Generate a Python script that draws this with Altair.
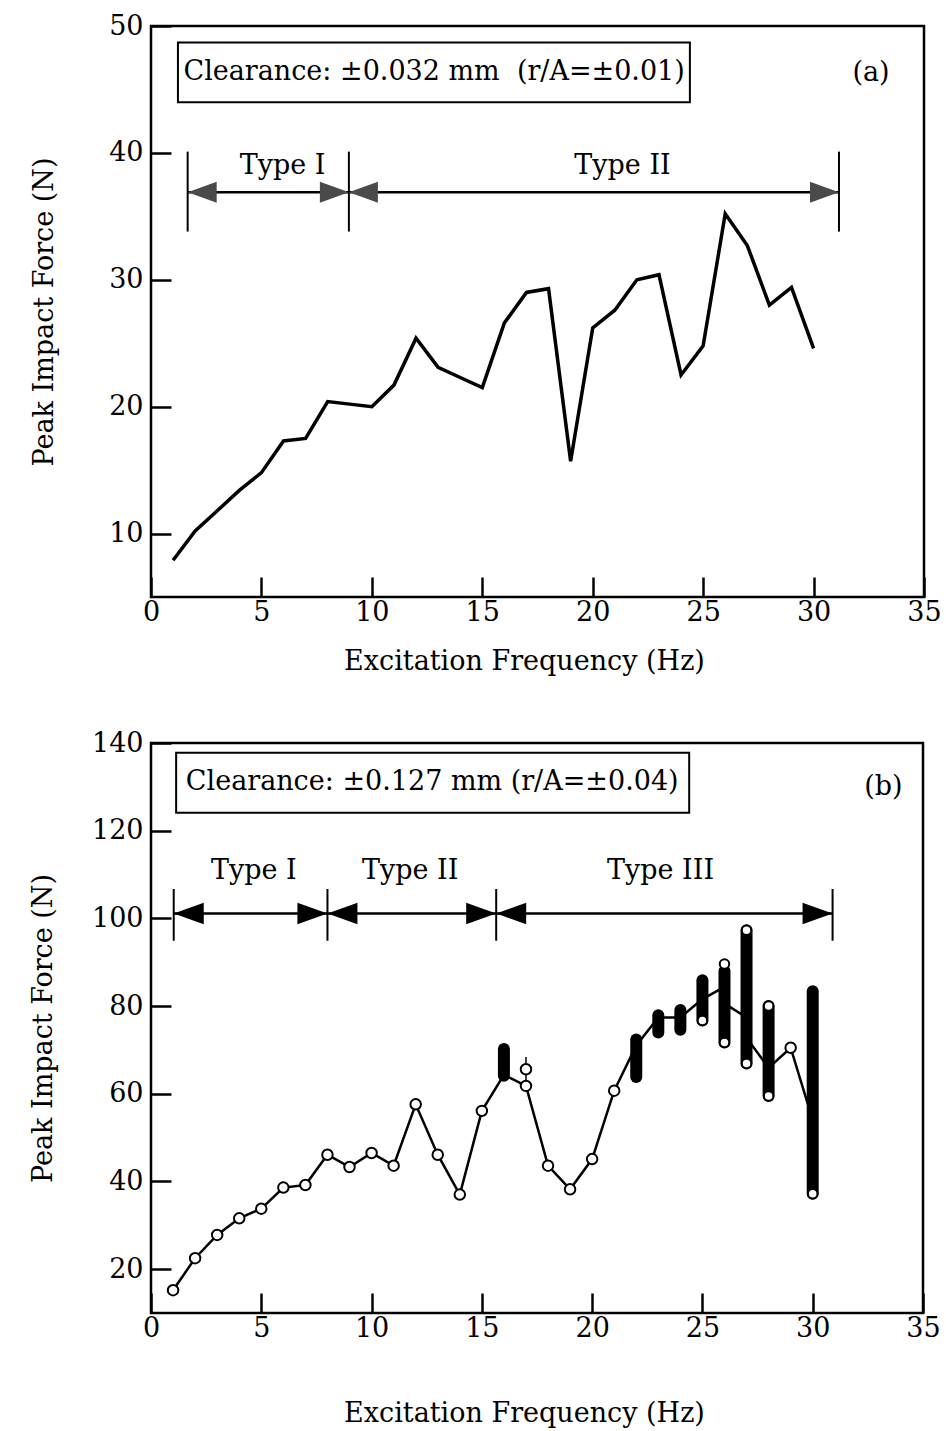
import altair as alt
import pandas as pd

FONT = "DejaVu Serif"
FS = 27

# ---------------- Panel (a) data ----------------
a_freq = list(range(1, 31))
a_force = [7.9, 10.2, 11.8, 13.4, 14.8, 17.3, 17.5, 20.4, 20.2, 20.0,
           21.7, 25.4, 23.1, 22.3, 21.5, 26.6, 29.0, 29.3, 15.7, 26.2,
           27.6, 30.0, 30.4, 22.5, 24.8, 35.2, 32.7, 28.0, 29.4, 24.6]
a_bounds = [1.66, 8.96, 31.15]
a_types = ["Type I", "Type II"]
a_type_x = [5.96, 21.35]
a_type_y = 39.0
a_arrow_y = 36.9
a_bar_lo, a_bar_hi = 33.8, 40.1
a_box = [1.22, 24.4, 44.0, 48.7]
a_box_text = "Clearance: \u00b10.032 mm\u00a0\u00a0(r/A=\u00b10.01)"
a_box_text_xy = [12.82, 46.35]
a_tag = "(a)"
a_tag_xy = [32.6, 46.3]
a_xdom = [0, 35]
a_ydom = [5, 50]
a_xticks = [0, 5, 10, 15, 20, 25, 30, 35]
a_yticks = [10, 20, 30, 40, 50]

# ---------------- Panel (b) data ----------------
b_pts_x = [1, 2, 3, 4, 5, 6, 7, 8, 9, 10, 11, 12, 13, 14, 15, 17, 17, 18, 19, 20, 21, 29]
b_pts_y = [15.2, 22.5, 27.8, 31.6, 33.8, 38.6, 39.2, 46.1, 43.3, 46.5, 43.6, 57.6, 46.1, 37.0,
           56.1, 65.6, 61.8, 43.6, 38.2, 45.1, 60.7, 70.5]
b_line_x = [1, 2, 3, 4, 5, 6, 7, 8, 9, 10, 11, 12, 13, 14, 15, 16, 17, 18, 19, 20, 21,
            22, 23, 24, 25, 26, 26, 27, 27, 28, 29, 30]
b_line_y = [15.2, 22.5, 27.8, 31.6, 33.8, 38.6, 39.2, 46.1, 43.3, 46.5, 43.6, 57.6, 46.1, 37.0,
            56.1, 64.3, 61.8, 43.6, 38.2, 45.1, 60.7, 71.0, 77.4, 77.4, 81.6, 84.4, 80.6,
            77.4, 72.8, 65.9, 70.5, 54.0]
b_blob_x = [16, 22, 23, 24, 25, 26, 27, 28, 30]
b_blob_lo = [64.1, 63.8, 74.0, 74.6, 76.7, 71.7, 66.9, 59.5, 37.2]
b_blob_hi = [70.2, 72.4, 77.9, 79.1, 85.9, 88.0, 97.3, 80.0, 83.4]
b_end_x = [25, 26, 26, 27, 27, 28, 28, 30]
b_end_y = [76.7, 89.6, 71.7, 97.3, 66.9, 80.0, 59.5, 37.2]
b_spike_x = [17]
b_spike_lo = [62.2]
b_spike_hi = [68.4]
b_bounds = [1.03, 8.0, 15.65, 30.9]
b_types = ["Type I", "Type II", "Type III"]
b_type_x = [4.66, 11.75, 23.1]
b_type_y = 110.8
b_arrow_y = 101.1
b_bar_lo, b_bar_hi = 94.9, 106.7
b_box = [1.14, 24.4, 124.1, 137.8]
b_box_text = "Clearance: \u00b10.127 mm (r/A=\u00b10.04)"
b_box_text_xy = [12.75, 131.0]
b_tag = "(b)"
b_tag_xy = [33.2, 130.0]
b_xdom = [0, 35]
b_ydom = [10, 140]
b_xticks = [0, 5, 10, 15, 20, 25, 30, 35]
b_yticks = [20, 40, 60, 80, 100, 120, 140]

X_TITLE = "Excitation Frequency (Hz)"
Y_TITLE = "Peak Impact Force (N)"

LEFT_HEAD = "M0,0L1,-0.36L1,0.36Z"
RIGHT_HEAD = "M0,0L-1,-0.36L-1,0.36Z"


def panel(xdom, ydom, xticks, yticks, xtitle_pad, ytitle_pad,
          bounds, types, type_x, type_y, arrow_y, bar_lo, bar_hi,
          box, box_text, box_xy, tag, tag_xy, head_color, head_size):
    xs = alt.Scale(domain=xdom, nice=False, zero=False)
    ys = alt.Scale(domain=ydom, nice=False, zero=False)
    xax = alt.Axis(values=xticks, offset=-20, tickSize=20, labelPadding=2,
                   titlePadding=xtitle_pad, titleX=373)
    yax = alt.Axis(values=yticks, offset=-20, tickSize=20, labelPadding=8,
                   titlePadding=ytitle_pad)

    def X(f):
        return alt.X(f, type="quantitative", scale=xs, title=X_TITLE, axis=xax)

    def Y(f):
        return alt.Y(f, type="quantitative", scale=ys, title=Y_TITLE, axis=yax)

    box_df = pd.DataFrame({"x": [box[0]], "x2": [box[1]], "y": [box[2]], "y2": [box[3]]})
    rect = alt.Chart(box_df).mark_rect(fill="white", stroke="black", strokeWidth=2).encode(
        x=X("x"), x2="x2", y=Y("y"), y2="y2")
    txt_df = pd.DataFrame({"x": [box_xy[0], tag_xy[0]], "y": [box_xy[1], tag_xy[1]],
                           "t": [box_text, tag]})
    txt = alt.Chart(txt_df).mark_text(font=FONT, fontSize=FS, color="black",
                                      baseline="middle", align="center").encode(
        x=X("x"), y=Y("y"), text="t:N")

    bars_df = pd.DataFrame({"x": bounds, "lo": [bar_lo] * len(bounds), "hi": [bar_hi] * len(bounds)})
    bars = alt.Chart(bars_df).mark_rule(color="black", strokeWidth=2).encode(
        x=X("x"), y=Y("lo"), y2="hi")
    seg_df = pd.DataFrame({"x": bounds[:-1], "x2": bounds[1:], "y": [arrow_y] * (len(bounds) - 1)})
    segs = alt.Chart(seg_df).mark_rule(color="black", strokeWidth=2.5).encode(
        x=X("x"), x2="x2", y=Y("y"))
    lh = alt.Chart(pd.DataFrame({"x": bounds[:-1], "y": [arrow_y] * (len(bounds) - 1)})).mark_point(
        shape=LEFT_HEAD, filled=True, size=head_size, color=head_color, opacity=1).encode(
        x=X("x"), y=Y("y"))
    rh = alt.Chart(pd.DataFrame({"x": bounds[1:], "y": [arrow_y] * (len(bounds) - 1)})).mark_point(
        shape=RIGHT_HEAD, filled=True, size=head_size, color=head_color, opacity=1).encode(
        x=X("x"), y=Y("y"))
    tt = alt.Chart(pd.DataFrame({"x": type_x, "y": [type_y] * len(types), "t": types})).mark_text(
        font=FONT, fontSize=FS, color="black", baseline="middle", align="center").encode(
        x=X("x"), y=Y("y"), text="t:N")
    layers = [rect, txt, bars, segs, lh, rh, tt]
    return layers, X, Y


a_layers, aX, aY = panel(a_xdom, a_ydom, a_xticks, a_yticks, 23, 50,
                         a_bounds, a_types, a_type_x, a_type_y, a_arrow_y, a_bar_lo, a_bar_hi,
                         a_box, a_box_text, a_box_text_xy, a_tag, a_tag_xy, "#4a4a4a", 3364)
a_line = alt.Chart(pd.DataFrame({"f": a_freq, "v": a_force})).mark_line(
    color="black", strokeWidth=3.5, strokeJoin="miter").encode(x=aX("f"), y=aY("v"))
panel_a = alt.layer(*a_layers, a_line).properties(width=773, height=571)

b_layers, bX, bY = panel(b_xdom, b_ydom, b_xticks, b_yticks, 59, 34,
                         b_bounds, b_types, b_type_x, b_type_y, b_arrow_y, b_bar_lo, b_bar_hi,
                         b_box, b_box_text, b_box_text_xy, b_tag, b_tag_xy, "black", 3600)
b_line = alt.Chart(pd.DataFrame({"f": b_line_x, "v": b_line_y, "i": list(range(len(b_line_x)))})).mark_line(
    color="black", strokeWidth=2.5).encode(x=bX("f"), y=bY("v"), order="i:Q")
b_blob = alt.Chart(pd.DataFrame({"f": b_blob_x, "lo": b_blob_lo, "hi": b_blob_hi})).mark_rule(
    color="black", strokeWidth=12, strokeCap="round").encode(x=bX("f"), y=bY("lo"), y2="hi")
b_spike = alt.Chart(pd.DataFrame({"f": b_spike_x, "lo": b_spike_lo, "hi": b_spike_hi})).mark_rule(
    color="black", strokeWidth=1.5).encode(x=bX("f"), y=bY("lo"), y2="hi")
b_pts = alt.Chart(pd.DataFrame({"f": b_pts_x, "v": b_pts_y})).mark_point(
    shape="circle", size=110, filled=False, fill="white", fillOpacity=1, stroke="black",
    strokeWidth=2, opacity=1).encode(x=bX("f"), y=bY("v"))
b_ends = alt.Chart(pd.DataFrame({"f": b_end_x, "v": b_end_y})).mark_point(
    shape="circle", size=90, filled=False, fill="white", fillOpacity=1, stroke="black",
    strokeWidth=2, opacity=1).encode(x=bX("f"), y=bY("v"))
panel_b = alt.layer(*b_layers, b_line, b_spike, b_blob, b_ends, b_pts).properties(width=772, height=570)

chart = alt.concat(panel_a, panel_b, columns=1, spacing=51).properties(
    align="none", bounds="full",
    padding={"left": 28, "top": 10, "right": 0, "bottom": 0},
    background="white",
).configure_view(stroke="black", strokeWidth=2.5).configure_axis(
    labelFont=FONT, labelFontSize=FS, labelColor="black", labelFlush=False, labelOverlap=False,
    titleFont=FONT, titleFontSize=FS, titleFontWeight="normal", titleColor="black",
    tickColor="black", tickWidth=2.5, domain=False, grid=False,
)

chart.save("out.html", embed_options={"renderer": "svg", "actions": False})
